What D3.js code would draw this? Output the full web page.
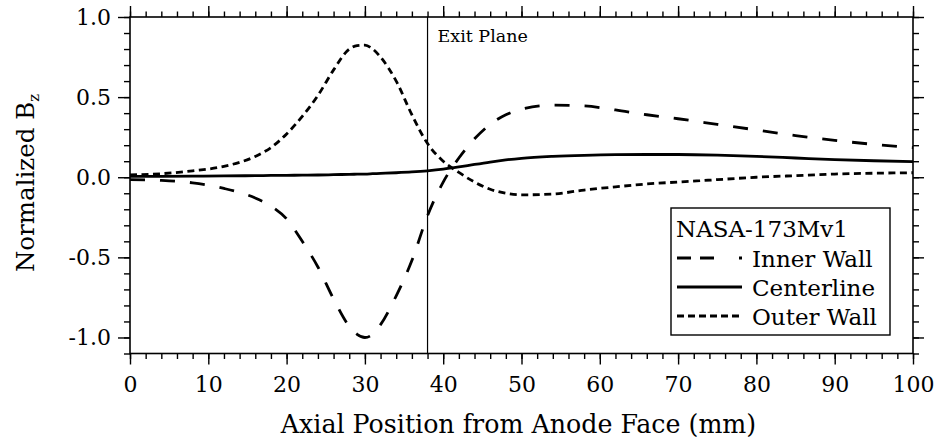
<!DOCTYPE html>
<html lang="en">
<head>
<meta charset="utf-8">
<title>Normalized Bz</title>
<script src="https://d3js.org/d3.v7.min.js"></script>
<style>
  body { margin: 0; background: #fff; }
  svg text { font-family: "DejaVu Serif", serif; fill: #000; }
</style>
</head>
<body>
<script>
// axial position (mm) shared by all three series
const positions = [0, 4, 8, 12, 16, 18, 20, 22, 24, 26, 28, 29, 30, 31, 32, 34, 36, 38, 40, 42, 44, 46, 48, 50, 54, 58, 62, 66, 70, 75, 80, 85, 90, 95, 100]
const innerWall = [-0.015, -0.02, -0.035, -0.07, -0.13, -0.18, -0.26, -0.40, -0.56, -0.76, -0.93, -0.98, -1.0, -0.98, -0.92, -0.74, -0.52, -0.24, -0.03, 0.12, 0.24, 0.33, 0.39, 0.425, 0.45, 0.445, 0.42, 0.39, 0.365, 0.33, 0.295, 0.26, 0.23, 0.205, 0.185]
const centerline = [0.005, 0.006, 0.007, 0.008, 0.01, 0.011, 0.012, 0.013, 0.014, 0.016, 0.018, 0.019, 0.02, 0.022, 0.024, 0.028, 0.033, 0.04, 0.05, 0.064, 0.08, 0.095, 0.108, 0.118, 0.13, 0.137, 0.141, 0.142, 0.142, 0.138, 0.13, 0.12, 0.11, 0.103, 0.098]
const outerWall = [0.015, 0.022, 0.04, 0.068, 0.13, 0.185, 0.27, 0.38, 0.51, 0.67, 0.80, 0.822, 0.825, 0.80, 0.75, 0.60, 0.39, 0.21, 0.10, 0.03, -0.03, -0.075, -0.10, -0.11, -0.105, -0.08, -0.06, -0.042, -0.03, -0.015, 0.0, 0.01, 0.02, 0.025, 0.028]

const seriesNames = ["Inner Wall", "Centerline", "Outer Wall"]
const legendTitle = "NASA-173Mv1"
const exitPlane = 38
const xTicks = [0, 10, 20, 30, 40, 50, 60, 70, 80, 90, 100]
const yTicks = [-1.0, -0.5, 0.0, 0.5, 1.0]
const yTickLabels = ["-1.0", "-0.5", "0.0", "0.5", "1.0"]

const measurements = {
    width: 939,
    height: 447,
    left: 130,
    right: 913,
    top: 17,
    bottom: 353.5
}

const dashes = ["15,15", null, "7,4.5"]
const legendDash = ["14,9,14,25", null, "7,4"]

const svgContainer = d3.select("body").append("svg")
    .attr("width", measurements.width)
    .attr("height", measurements.height)

const scaleX = d3.scaleLinear()
    .domain([0, 100])
    .range([measurements.left, measurements.right])

const scaleY = d3.scaleLinear()
    .domain([-1.1, 1.0])
    .range([measurements.bottom, measurements.top])

function styleAxis(g) {
    g.select(".domain").remove()
    g.selectAll(".tick line").attr("stroke", "#000").attr("stroke-width", 1.4)
    g.selectAll(".tick text").attr("font-size", 22).attr("font-family", "DejaVu Serif")
}

function drawAxes() {
    const h = measurements.bottom - measurements.top
    const w = measurements.right - measurements.left
    const minorX = d3.range(0, 101, 2)
    const minorY = d3.range(-11, 11).map(d => d / 10)

    // minor ticks, all four sides, pointing out
    svgContainer.append("g").attr("transform", `translate(0,${measurements.bottom})`)
        .call(d3.axisBottom(scaleX).tickValues(minorX).tickSize(5.5).tickFormat("")).call(styleAxis)
    svgContainer.append("g").attr("transform", `translate(0,${measurements.top})`)
        .call(d3.axisTop(scaleX).tickValues(minorX).tickSize(5.5).tickFormat("")).call(styleAxis)
    svgContainer.append("g").attr("transform", `translate(${measurements.left},0)`)
        .call(d3.axisLeft(scaleY).tickValues(minorY).tickSize(6).tickFormat("")).call(styleAxis)
    svgContainer.append("g").attr("transform", `translate(${measurements.right},0)`)
        .call(d3.axisRight(scaleY).tickValues(minorY).tickSize(6).tickFormat("")).call(styleAxis)

    // major ticks
    svgContainer.append("g").attr("transform", `translate(0,${measurements.bottom})`)
        .call(d3.axisBottom(scaleX).tickValues(xTicks).tickSize(11).tickPadding(12).tickFormat(d => String(d)))
        .call(styleAxis)
    svgContainer.append("g").attr("transform", `translate(0,${measurements.top})`)
        .call(d3.axisTop(scaleX).tickValues(xTicks).tickSize(11).tickFormat("")).call(styleAxis)
    svgContainer.append("g").attr("transform", `translate(${measurements.left},0)`)
        .call(d3.axisLeft(scaleY).tickValues(yTicks).tickSize(12).tickPadding(7).tickFormat((d, i) => yTickLabels[i]))
        .call(styleAxis)
    svgContainer.append("g").attr("transform", `translate(${measurements.right},0)`)
        .call(d3.axisRight(scaleY).tickValues(yTicks).tickSize(11).tickFormat("")).call(styleAxis)

    // frame
    svgContainer.append("rect")
        .attr("x", measurements.left).attr("y", measurements.top)
        .attr("width", w).attr("height", h)
        .attr("fill", "none").attr("stroke", "#000").attr("stroke-width", 1.6)

    // exit plane
    svgContainer.append("line")
        .attr("x1", scaleX(exitPlane)).attr("x2", scaleX(exitPlane))
        .attr("y1", measurements.top).attr("y2", measurements.bottom)
        .attr("stroke", "#000").attr("stroke-width", 1.2)
    svgContainer.append("text")
        .attr("x", scaleX(exitPlane) + 10).attr("y", 41.5)
        .attr("font-size", 17.5)
        .text("Exit Plane")

    // axis titles
    svgContainer.append("text")
        .attr("x", (measurements.left + measurements.right) / 2 - 3)
        .attr("y", 433)
        .attr("text-anchor", "middle")
        .attr("font-size", 25.3)
        .text("Axial Position from Anode Face (mm)")

    const yTitle = svgContainer.append("text")
        .attr("transform", "translate(34,183) rotate(-90)")
        .attr("text-anchor", "middle")
        .attr("font-size", 24.5)
    yTitle.append("tspan").text("Normalized B")
    yTitle.append("tspan").attr("font-size", 15).attr("dy", 5).text("z")
}

function drawCurves() {
    const all = [innerWall, centerline, outerWall]
    const line = d3.line()
        .x(d => scaleX(d[0]))
        .y(d => scaleY(d[1]))
        .curve(d3.curveMonotoneX)

    all.forEach((vals, i) => {
        svgContainer.append("path")
            .datum(positions.map((p, j) => [p, vals[j]]))
            .attr("d", line)
            .attr("fill", "none")
            .attr("stroke", "#000")
            .attr("stroke-width", 2.8)
            .attr("stroke-dasharray", dashes[i])
    })
}

function drawLegend() {
    const box = { x: 671, y: 208, w: 219, h: 127 }
    const g = svgContainer.append("g")
    g.append("rect")
        .attr("x", box.x).attr("y", box.y).attr("width", box.w).attr("height", box.h)
        .attr("fill", "#fff").attr("stroke", "#000").attr("stroke-width", 1.4)
    g.append("text")
        .attr("x", box.x + 5).attr("y", box.y + 29)
        .attr("font-size", 23)
        .text(legendTitle)

    seriesNames.forEach((name, i) => {
        const yy = box.y + 50 + i * 29
        g.append("line")
            .attr("x1", box.x + 6).attr("x2", box.x + 71)
            .attr("y1", yy).attr("y2", yy)
            .attr("stroke", "#000").attr("stroke-width", 2.8)
            .attr("stroke-dasharray", legendDash[i])
        g.append("text")
            .attr("x", box.x + 81).attr("y", yy + 8.5)
            .attr("font-size", 23)
            .text(name)
    })
}

drawAxes()
drawCurves()
drawLegend()
</script>
</body>
</html>
